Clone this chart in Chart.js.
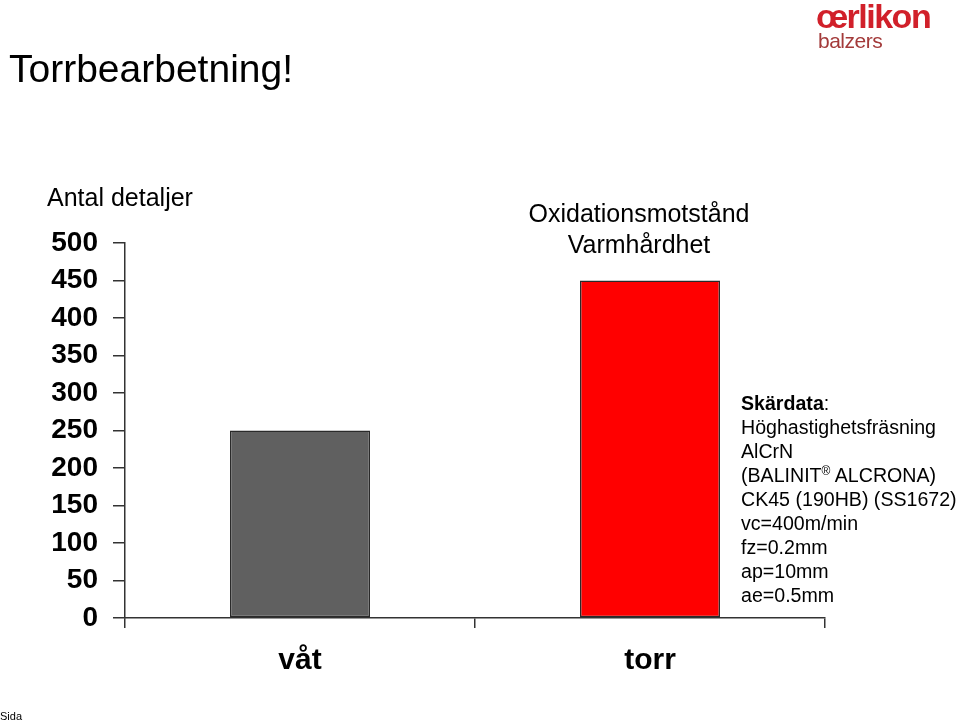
<!DOCTYPE html>
<html>
<head>
<meta charset="utf-8">
<script src="https://cdn.jsdelivr.net/npm/chart.js@4"></script>
<style>
  body { margin: 0; background: #fff; font-family: "Liberation Sans", Arial, sans-serif; }
  #wrap { position: relative; width: 960px; height: 724px; overflow: hidden; }
  #chart { position: absolute; left: 0; top: 0; }
  .txt { position: absolute; white-space: nowrap; color: #000; }
  sup { font-size: 12px; line-height: 0; position: relative; top: 1px; vertical-align: super; }
</style>
</head>
<body>
<div id="wrap">
  <canvas id="chart" width="960" height="724"></canvas>
  <div class="txt" style="left:9px; top:47px; font-size:39px;">Torrbearbetning!</div>
  <div class="txt" style="left:47px; top:183px; font-size:25px;">Antal detaljer</div>
  <div class="txt" style="left:514px; top:198px; width:250px; text-align:center; font-size:25px; line-height:31px;">Oxidationsmotstånd<br>Varmhårdhet</div>
  <div class="txt" style="left:741px; top:391px; font-size:19.6px; line-height:24px;">
    <b>Skärdata</b>:<br>Höghastighetsfräsning<br>AlCrN<br>(BALINIT<sup>®</sup> ALCRONA)<br>CK45 (190HB) (SS1672)<br>vc=400m/min<br>fz=0.2mm<br>ap=10mm<br>ae=0.5mm
  </div>
  <div class="txt" style="left:816px; top:-3px; font-size:34px; font-weight:bold; color:#d1202a; letter-spacing:-1.5px;">œrlikon</div>
  <div class="txt" style="left:818px; top:29px; font-size:21px; color:#a33a3a; letter-spacing:-0.5px;">balzers</div>
  <div class="txt" style="left:0px; top:710px; font-size:11px;">Sida</div>
</div>
<script>
// categories and values
const categories = ['våt', 'torr'];
const antalDetaljer = [250, 450];
const barColors = ['#606060', '#ff0000'];
const yTicks = [0, 50, 100, 150, 200, 250, 300, 350, 400, 450, 500];

const axisColor = '#333333';

new Chart(document.getElementById('chart').getContext('2d'), {
  type: 'bar',
  data: {
    labels: categories,
    datasets: [{
      data: antalDetaljer,
      backgroundColor: barColors,
      borderColor: '#2a2a2a',
      borderWidth: 1.5,
      borderSkipped: false,
      barPercentage: 0.4,
      categoryPercentage: 1
    }]
  },
  options: {
    responsive: false,
    animation: false,
    layout: { padding: { left: 0, right: 135, top: 243, bottom: 0 } },
    plugins: { legend: { display: false }, tooltip: { enabled: false } },
    scales: {
      y: {
        min: 0,
        max: 500,
        afterFit: scale => { scale.width = 125; },
        afterBuildTicks: scale => { scale.ticks = yTicks.map(v => ({ value: v })); },
        border: { display: true, color: axisColor, width: 1.5 },
        grid: { drawOnChartArea: false, drawTicks: true, tickLength: 12, color: axisColor, lineWidth: 1.5 },
        ticks: {
          padding: 15,
          color: '#000',
          font: { family: '"Liberation Sans", Arial, sans-serif', size: 28, weight: 'bold' }
        }
      },
      x: {
        offset: true,
        afterFit: scale => { scale.height = 106; },
        border: { display: true, color: axisColor, width: 1.5 },
        grid: { offset: true, drawOnChartArea: false, drawTicks: true, tickLength: 10, color: axisColor, lineWidth: 1.5 },
        ticks: {
          padding: 15,
          color: '#000',
          font: { family: '"Liberation Sans", Arial, sans-serif', size: 30, weight: 'bold' }
        }
      }
    }
  }
});
</script>
</body>
</html>
